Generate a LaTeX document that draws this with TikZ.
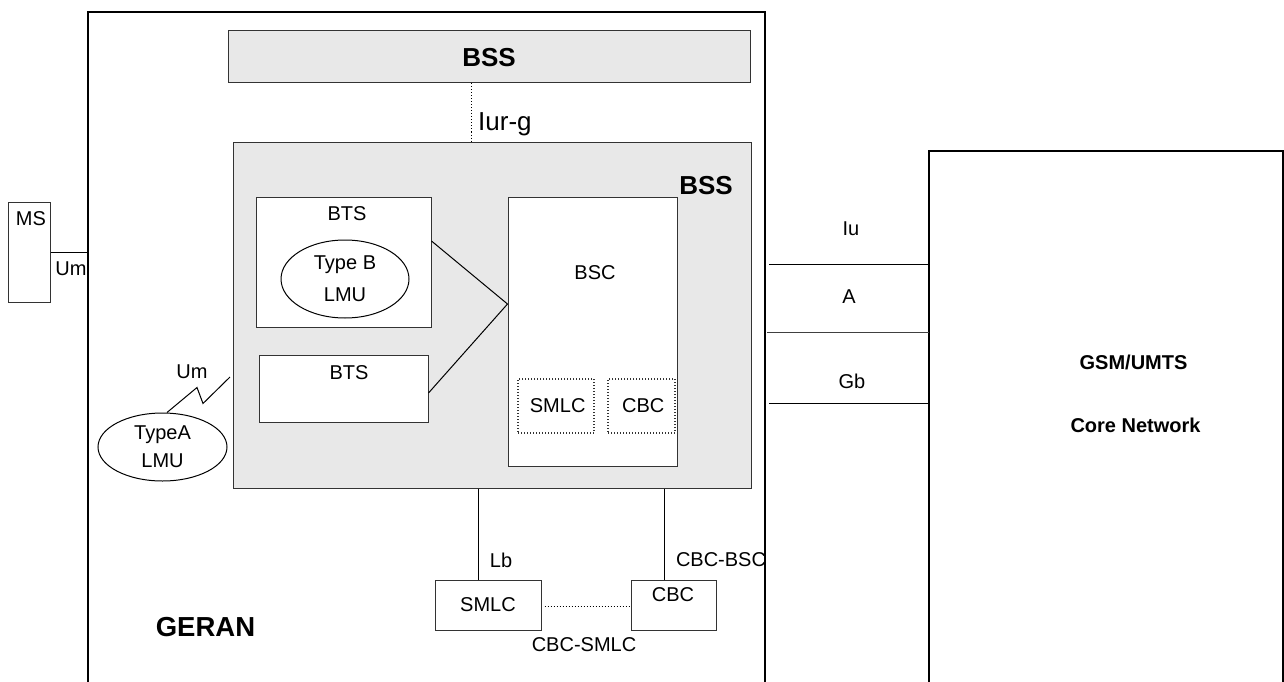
\documentclass[tikz,border=0pt]{standalone}
\usepackage{fontspec}
\setmainfont{Liberation Sans}
\usetikzlibrary{positioning,shapes.geometric}

\begin{document}
\begin{tikzpicture}[x=1pt,y=-1pt,
    squarednode/.style={rectangle, draw=black!80, line width=1pt, fill=white, inner sep=0pt},
    graynode/.style={squarednode, fill=black!9},
    dottednode/.style={squarednode, dotted, line width=1.3pt},
    lmunode/.style={ellipse, draw=black, line width=1pt, fill=white, align=center, inner sep=0pt},
    txt/.style={font=\fontsize{20}{24}\selectfont, inner sep=0pt},
    boldtxt/.style={font=\fontsize{26}{30}\selectfont\bfseries, inner sep=0pt},
    link/.style={draw=black, line width=1pt},
    frame/.style={draw=black, line width=1.5pt},
    ]
    \useasboundingbox (0,0) rectangle (1284,682);

    %Frames
    \coordinate (geranSW) at (88,682);
    \coordinate (geranNE) at (765,12);
    \coordinate (coreSW)  at (929,682);
    \coordinate (coreNE)  at (1283,151);
    \draw[frame] (geranSW) |- (geranNE) -- (geranNE |- geranSW);
    \draw[frame] (coreSW) |- (coreNE) -- (coreNE |- coreSW);

    %Nodes
    \node[graynode, minimum width=522pt, minimum height=52pt] (bssTop) at (489,57) {};
    \node[boldtxt] (bssTopLbl) at (489,58) {BSS};
    \node[graynode, minimum width=518pt, minimum height=346pt] (bss) at (492,315) {};
    \node[boldtxt] (bssLbl) at (706,186) {BSS};

    \node[squarednode, minimum width=175pt, minimum height=130pt] (bts1) at (343.5,262) {};
    \node[txt] (bts1Lbl) at (347,214) {BTS};
    \node[lmunode, txt, font=\fontsize{20}{32}\selectfont, minimum width=128pt, minimum height=78pt] (lmuB) at (345,279) {Type B\\LMU};
    \node[squarednode, minimum width=169pt, minimum height=67pt] (bts2) at (343.5,388.5) {};
    \node[txt] (bts2Lbl) at (349,373) {BTS};

    \node[squarednode, minimum width=169pt, minimum height=269pt] (bsc) at (592.5,331.5) {};
    \node[txt] (bscLbl) at (595,273) {BSC};
    \node[dottednode, txt, minimum width=76pt, minimum height=54pt] (smlcIn) at (556,406) {\,SMLC};
    \node[dottednode, txt, minimum width=67pt, minimum height=54pt] (cbcIn) at (641.5,406) {\,CBC};

    \node[squarednode, minimum width=42pt, minimum height=100pt] (ms) at (29,252) {};
    \node[txt] (msLbl) at (31,219) {MS};
    \node[txt] (umMs) at (71,269) {Um};

    \node[lmunode, txt, font=\fontsize{20}{28}\selectfont, minimum width=129pt, minimum height=68pt] (lmuA) at (162.5,447) {TypeA\\LMU};
    \node[txt] (umA) at (192,372) {Um};

    \node[squarednode, txt, minimum width=106pt, minimum height=50pt] (smlc) at (488,605) {SMLC};
    \node[squarednode, minimum width=85pt, minimum height=50pt] (cbc) at (673.5,605) {};
    \node[txt] (cbcLbl) at (673,595) {CBC};

    \node[txt, font=\fontsize{26}{30}\selectfont, anchor=west] (iurLbl) at (478,124) {Iur-g};
    \node[txt] (lbLbl) at (501,560) {Lb};
    \node[txt] (cbcBscLbl) at (721,560) {CBC-BSC};
    \node[txt] (cbcSmlcLbl) at (584,645) {CBC-SMLC};
    \node[boldtxt, font=\fontsize{27.5}{32}\selectfont\bfseries] (geranLbl) at (205.5,627) {GERAN};

    \node[txt] (iuLbl) at (851,229) {Iu};
    \node[txt] (aLbl) at (849,297) {A};
    \node[txt] (gbLbl) at (852,381) {Gb};
    \node[txt, font=\fontsize{20}{24}\selectfont\bfseries] (gsmLbl) at (1133.5,362) {GSM/UMTS};
    \node[txt, font=\fontsize{20}{24}\selectfont\bfseries] (coreLbl) at (1135.5,425) {Core Network};

    %Lines
    \coordinate (iurx) at (471,100);
    \draw[link, dotted] (bssTop.south -| iurx) -- (bss.north -| iurx);
    \draw[link] ([yshift=21pt]bts1.east) -- ([yshift=27.5pt]bsc.west);
    \draw[link] ([yshift=-4.5pt]bts2.east) -- ([yshift=27.5pt]bsc.west);
    \draw[link] (ms.east) -- (ms.east -| geranSW);
    \coordinate (umEnd) at (230,377);
    \draw[link] ([xshift=4.5pt]lmuA.north) -- ++(30,-25) -- ++(6,16) -- (umEnd);

    \coordinate (lbx) at (478,0);
    \coordinate (cbx) at (664,0);
    \draw[link] (bss.south -| lbx) -- (smlc.north -| lbx);
    \draw[link] (bss.south -| cbx) -- (cbc.north -| cbx);
    \draw[link, dotted] ([xshift=3pt,yshift=-1pt]smlc.east) -- ([yshift=-1pt]cbc.west);

    \coordinate (iu) at (769,264);
    \coordinate (a)  at (767,332);
    \coordinate (gb) at (769,403);
    \draw[link] (iu) -- (iu -| coreSW);
    \draw[link, draw=black!75] (a) -- (a -| coreSW);
    \draw[link] (gb) -- (gb -| coreSW);

\end{tikzpicture}
\end{document}
